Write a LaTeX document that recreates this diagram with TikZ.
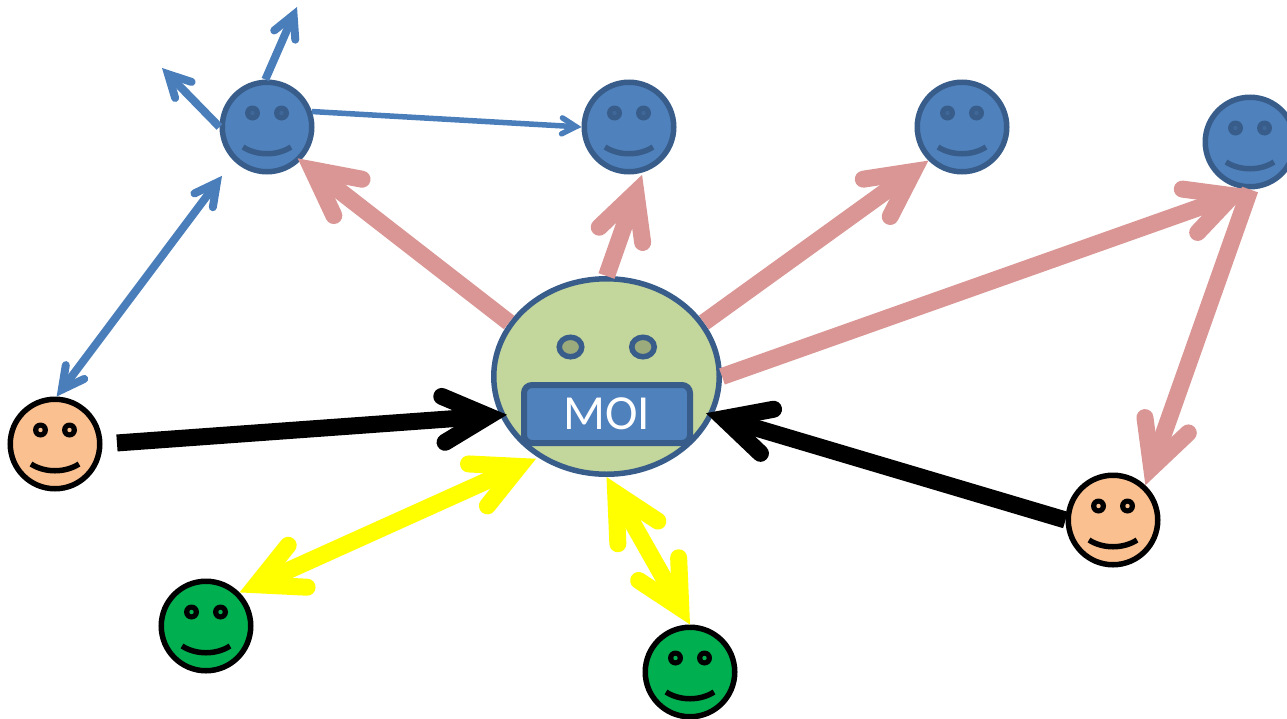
\documentclass[tikz,border=0pt]{standalone}
\usepackage{fontspec}
\setmainfont{Carlito}
\usetikzlibrary{arrows.meta,shapes.geometric}
\definecolor{bluefill}{HTML}{4F81BD}
\definecolor{bluedark}{HTML}{385D8A}
\definecolor{bluearrow}{HTML}{4A7EBB}
\definecolor{pinkarrow}{HTML}{D99694}
\definecolor{orangefill}{HTML}{FAC090}
\definecolor{greenfill}{HTML}{00B050}
\definecolor{moifill}{HTML}{C3D69B}
\definecolor{moieye}{HTML}{9CAB7C}
\definecolor{blueeye}{HTML}{3F6899}
\definecolor{pureyellow}{RGB}{255,255,0}
\tikzset{
  x=1pt,y=-1pt,
  facebody/.style={circle,draw=#1,line width=5.5pt,minimum size=89.5pt,inner sep=0pt},
  bighead/.tip={Straight Barb[length=45pt,width=46pt,line width=17pt,line cap=round,line join=miter]},
  midhead/.tip={Straight Barb[length=22pt,width=23pt,line width=8pt,line cap=round,line join=miter]},
  smallhead/.tip={Straight Barb[length=14pt,width=16pt,line width=5.5pt,line cap=round,line join=miter]},
  pinkline/.style={draw=pinkarrow,line width=17pt},
  blackline/.style={draw=black,line width=17pt},
  yellowline/.style={draw=pureyellow,line width=17pt},
  blueline/.style={draw=bluearrow,line width=8pt},
  thinline/.style={draw=bluearrow,line width=5.5pt},
}
% #1 name, #2 x, #3 y, #4 fill, #5 stroke, #6 eye fill
\newcommand{\smiley}[6]{%
  \node[facebody=#5,fill=#4] (#1) at (#2,#3) {};
  \fill[#5] (#2-14.5,#3-14) circle[radius=7.5] (#2+14.5,#3-14) circle[radius=7.5];
  \fill[#6] (#2-14.5,#3-14) circle[radius=2.2] (#2+14.5,#3-14) circle[radius=2.2];
  \draw[#5,line width=5.5pt] (#2-24,#3+20) .. controls (#2-10,#3+29) and (#2+10,#3+29) .. (#2+24,#3+20);
}
\begin{document}
\begin{tikzpicture}
\useasboundingbox (0,0) rectangle (1287,718);
\smiley{fa}{267}{127}{bluefill}{bluedark}{blueeye}
\smiley{fb}{629}{127}{bluefill}{bluedark}{blueeye}
\smiley{fc}{962}{127}{bluefill}{bluedark}{blueeye}
\smiley{fd}{1250}{142}{bluefill}{bluedark}{blueeye}
\smiley{oa}{55}{444}{orangefill}{black}{orangefill}
\smiley{ob}{1113}{520}{orangefill}{black}{orangefill}
\smiley{ga}{206}{626}{greenfill}{black}{greenfill}
\smiley{gb}{690}{672}{greenfill}{black}{greenfill}
\node[ellipse,draw=bluedark,fill=moifill,line width=5.5pt,minimum width=225.5pt,minimum height=195.5pt,inner sep=0pt] (moi) at (606.5,376.5) {};
\node[ellipse,draw=bluedark,fill=moieye,line width=5.5pt,minimum width=22.5pt,minimum height=19.5pt,inner sep=0pt] (eyel) at (570.5,347) {};
\node[ellipse,draw=bluedark,fill=moieye,line width=5.5pt,minimum width=22.5pt,minimum height=19.5pt,inner sep=0pt] (eyer) at (643,347) {};
\node[rectangle,rounded corners=8pt,draw=bluedark,fill=bluefill,line width=6pt,minimum width=166pt,minimum height=58pt,inner sep=0pt,text=white,font=\fontsize{49pt}{49pt}\selectfont] (mouth) at (607,414) {MOI};
\coordinate (freeup) at (297,7);
\coordinate (freeleft) at (162,68);
% pink
\draw[pinkline,-{bighead},shorten >=-3.7pt] (moi.151.3) -- (fa.-45);
\draw[pinkline,-{bighead},shorten >=2.5pt] (moi.90) -- (fb.-73.7);
\draw[pinkline,-{bighead}] (moi.29.2) -- (fc.225.9);
\draw[pinkline,-{bighead}] (moi.0) -- (fd.270);
\draw[pinkline,-{bighead}] (fd.270) -- (ob.47.6);
% black
\draw[blackline,-{bighead},shorten <=14.5pt,shorten >=-7pt] (oa.0) -- (moi.200.1);
\draw[blackline,-{bighead},shorten >=-7.4pt] (ob.180) -- (moi.-20.1);
% yellow
\draw[yellowline,{bighead}-{bighead},shorten >=2.6pt] (ga.45) -- (moi.230.2);
\draw[yellowline,{bighead}-{bighead}] (moi.270) -- (gb.90);
% blue
\draw[blueline,{midhead}-{midhead},shorten <=19pt] (fa.225) -- (oa.88);
\draw[blueline,-{midhead}] (fa.92) -- (freeup);
\draw[blueline,-{midhead}] (fa.180) -- (freeleft);
\draw[thinline,-{smallhead}] (fa.19.6) -- (fb.180);
\end{tikzpicture}
\end{document}
